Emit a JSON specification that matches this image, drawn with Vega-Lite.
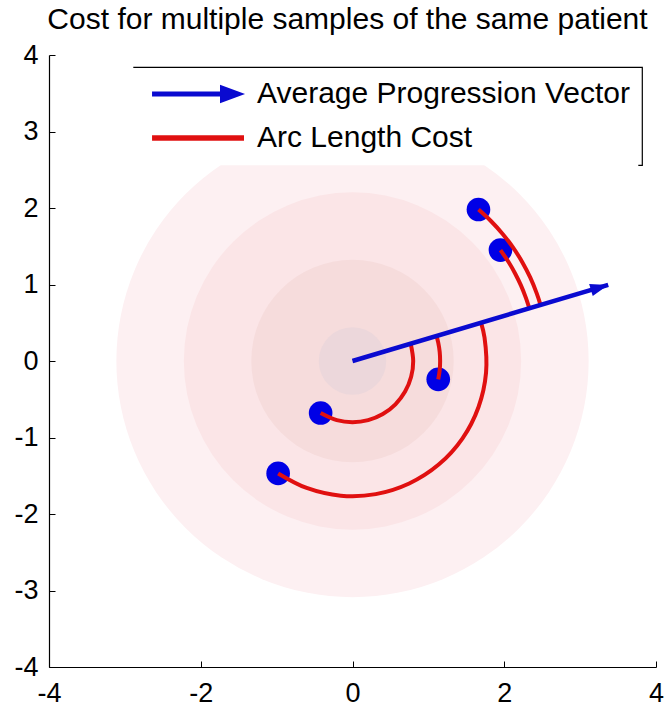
{
  "$schema": "https://vega.github.io/schema/vega-lite/v6.json",
  "width": 607,
  "height": 612,
  "autosize": {"type": "none"},
  "padding": {"left": 49, "top": 55, "right": 10, "bottom": 41},
  "background": "white",
  "config": {
    "view": {"stroke": null},
    "font": "Liberation Sans",
    "axis": {
      "grid": false,
      "title": null,
      "domainColor": "black",
      "domainWidth": 1.2,
      "tickColor": "black",
      "tickSize": -6,
      "labelColor": "black",
      "labelFont": "Liberation Sans",
      "labelFontSize": 27,
      "labelFlush": false,
      "labelOverlap": false,
      "labelExpr": "'' + datum.value"
    }
  },
  "title": {
    "text": "Cost for multiple samples of the same patient",
    "fontSize": 30,
    "fontWeight": "normal",
    "font": "Liberation Sans",
    "color": "black",
    "offset": 6,
    "dx": -5
  },
  "datasets": {
    "rings": [
      {"x": 0, "y": 0, "r": 3.5, "shade": "a"},
      {"x": 0, "y": 0, "r": 2.5, "shade": "b"},
      {"x": 0, "y": 0, "r": 1.5, "shade": "c"},
      {"x": 0, "y": 0, "r": 0.5, "shade": "d"}
    ],
    "samples": [
      {"x": 1.66, "y": 1.98},
      {"x": 1.95, "y": 1.45},
      {"x": 1.13, "y": -0.24},
      {"x": -0.42, "y": -0.68},
      {"x": -0.98, "y": -1.47}
    ],
    "arcs": [
      {"arc": 1, "k": 0, "x": 1.661, "y": 1.979, "series": "Arc Length Cost"},
      {"arc": 1, "k": 1, "x": 1.827, "y": 1.827, "series": "Arc Length Cost"},
      {"arc": 1, "k": 2, "x": 1.979, "y": 1.661, "series": "Arc Length Cost"},
      {"arc": 1, "k": 3, "x": 2.117, "y": 1.482, "series": "Arc Length Cost"},
      {"arc": 1, "k": 4, "x": 2.238, "y": 1.292, "series": "Arc Length Cost"},
      {"arc": 1, "k": 5, "x": 2.342, "y": 1.092, "series": "Arc Length Cost"},
      {"arc": 1, "k": 6, "x": 2.428, "y": 0.884, "series": "Arc Length Cost"},
      {"arc": 1, "k": 7, "x": 2.478, "y": 0.734, "series": "Arc Length Cost"},
      {"arc": 2, "k": 0, "x": 1.95, "y": 1.449, "series": "Arc Length Cost"},
      {"arc": 2, "k": 1, "x": 2.061, "y": 1.288, "series": "Arc Length Cost"},
      {"arc": 2, "k": 2, "x": 2.145, "y": 1.141, "series": "Arc Length Cost"},
      {"arc": 2, "k": 3, "x": 2.22, "y": 0.988, "series": "Arc Length Cost"},
      {"arc": 2, "k": 4, "x": 2.283, "y": 0.831, "series": "Arc Length Cost"},
      {"arc": 2, "k": 5, "x": 2.33, "y": 0.69, "series": "Arc Length Cost"},
      {"arc": 3, "k": 0, "x": 1.13, "y": -0.24, "series": "Arc Length Cost"},
      {"arc": 3, "k": 1, "x": 1.149, "y": -0.121, "series": "Arc Length Cost"},
      {"arc": 3, "k": 2, "x": 1.155, "y": 0.0, "series": "Arc Length Cost"},
      {"arc": 3, "k": 3, "x": 1.149, "y": 0.121, "series": "Arc Length Cost"},
      {"arc": 3, "k": 4, "x": 1.13, "y": 0.24, "series": "Arc Length Cost"},
      {"arc": 3, "k": 5, "x": 1.107, "y": 0.328, "series": "Arc Length Cost"},
      {"arc": 4, "k": 0, "x": -0.42, "y": -0.68, "series": "Arc Length Cost"},
      {"arc": 4, "k": 1, "x": -0.207, "y": -0.773, "series": "Arc Length Cost"},
      {"arc": 4, "k": 2, "x": 0.0, "y": -0.8, "series": "Arc Length Cost"},
      {"arc": 4, "k": 3, "x": 0.207, "y": -0.773, "series": "Arc Length Cost"},
      {"arc": 4, "k": 4, "x": 0.4, "y": -0.693, "series": "Arc Length Cost"},
      {"arc": 4, "k": 5, "x": 0.566, "y": -0.566, "series": "Arc Length Cost"},
      {"arc": 4, "k": 6, "x": 0.693, "y": -0.4, "series": "Arc Length Cost"},
      {"arc": 4, "k": 7, "x": 0.773, "y": -0.207, "series": "Arc Length Cost"},
      {"arc": 4, "k": 8, "x": 0.8, "y": 0.0, "series": "Arc Length Cost"},
      {"arc": 4, "k": 9, "x": 0.767, "y": 0.227, "series": "Arc Length Cost"},
      {"arc": 5, "k": 0, "x": -0.98, "y": -1.47, "series": "Arc Length Cost"},
      {"arc": 5, "k": 1, "x": -0.604, "y": -1.66, "series": "Arc Length Cost"},
      {"arc": 5, "k": 2, "x": -0.154, "y": -1.76, "series": "Arc Length Cost"},
      {"arc": 5, "k": 3, "x": 0.307, "y": -1.74, "series": "Arc Length Cost"},
      {"arc": 5, "k": 4, "x": 0.747, "y": -1.601, "series": "Arc Length Cost"},
      {"arc": 5, "k": 5, "x": 1.136, "y": -1.354, "series": "Arc Length Cost"},
      {"arc": 5, "k": 6, "x": 1.448, "y": -1.014, "series": "Arc Length Cost"},
      {"arc": 5, "k": 7, "x": 1.66, "y": -0.604, "series": "Arc Length Cost"},
      {"arc": 5, "k": 8, "x": 1.76, "y": -0.154, "series": "Arc Length Cost"},
      {"arc": 5, "k": 9, "x": 1.74, "y": 0.307, "series": "Arc Length Cost"},
      {"arc": 5, "k": 10, "x": 1.694, "y": 0.502, "series": "Arc Length Cost"}
    ],
    "vector": [
      {"k": 0, "x": 0, "y": 0, "series": "Average Progression Vector"},
      {"k": 1, "x": 3.37, "y": 0.995, "series": "Average Progression Vector"}
    ]
  },
  "layer": [
    {
      "data": {"name": "rings"},
      "mark": {"type": "point", "shape": "circle", "filled": true, "opacity": 1, "strokeWidth": 0},
      "encoding": {
        "x": {"field": "x", "type": "quantitative", "scale": {"domain": [-4, 4], "nice": false, "zero": false}, "axis": {"values": [-4, -2, 0, 2, 4], "labelPadding": 19}},
        "y": {"field": "y", "type": "quantitative", "scale": {"domain": [-4, 4], "nice": false, "zero": false}, "axis": {"values": [-4, -3, -2, -1, 0, 1, 2, 3, 4], "labelPadding": 17}},
        "size": {"field": "r", "type": "quantitative", "scale": {"type": "pow", "exponent": 2, "domain": [0, 4], "range": [0, 291300]}, "legend": null},
        "fill": {"field": "shade", "type": "nominal", "scale": {"domain": ["a", "b", "c", "d"], "range": ["#fdf0f2", "#fbe5e7", "#f6dcdc", "#ecd7db"]}, "legend": null},
        "order": {"field": "r", "sort": "descending"}
      }
    },
    {
      "data": {"name": "samples"},
      "mark": {"type": "point", "shape": "circle", "filled": true, "opacity": 1, "strokeWidth": 0, "size": 560, "color": "#0000e6"},
      "encoding": {
        "x": {"field": "x", "type": "quantitative"},
        "y": {"field": "y", "type": "quantitative"}
      }
    },
    {
      "data": {"name": "arcs"},
      "mark": {"type": "line", "strokeWidth": 4, "interpolate": "catmull-rom"},
      "encoding": {
        "x": {"field": "x", "type": "quantitative"},
        "y": {"field": "y", "type": "quantitative"},
        "detail": {"field": "arc", "type": "nominal"},
        "order": {"field": "k", "type": "quantitative"},
        "color": {
          "field": "series",
          "type": "nominal",
          "scale": {"domain": ["Average Progression Vector", "Arc Length Cost"], "range": ["#0a0ad0", "#e01010"]},
          "legend": {
            "orient": "none",
            "legendX": 84,
            "legendY": 12,
            "title": null,
            "direction": "vertical",
            "padding": 12,
            "symbolSize": 900,
            "symbolStrokeWidth": 0,
            "labelFontSize": 30,
            "labelFont": "Liberation Sans",
            "labelColor": "black",
            "labelOffset": 82,
            "labelLimit": 800,
            "rowPadding": 14,
            "fillColor": "white",
            "strokeColor": "black",
            "zindex": 3,
            "encode": {
              "legend": {"update": {"strokeDash": {"value": [611, 5000]}, "strokeWidth": {"value": 1.2}}},
              "symbols": {
                "update": {
                  "shape": {"signal": "datum.value === 'Arc Length Cost' ? 'M-0.53,-0.19L5.6,-0.19L5.6,0.19L-0.53,0.19Z' : 'M-0.53,-0.17L4.0,-0.17L4.0,-0.62L5.67,0L4.0,0.62L4.0,0.17L-0.53,0.17Z'"},
                  "fill": {"signal": "datum.value === 'Arc Length Cost' ? '#e01010' : '#0a0ad0'"},
                  "stroke": {"value": "transparent"},
                  "opacity": {"value": 1}
                }
              }
            }
          }
        }
      }
    },
    {
      "data": {"name": "vector"},
      "mark": {"type": "line", "strokeWidth": 4.5},
      "encoding": {
        "x": {"field": "x", "type": "quantitative"},
        "y": {"field": "y", "type": "quantitative"},
        "order": {"field": "k", "type": "quantitative"},
        "color": {"field": "series", "type": "nominal"}
      }
    },
    {
      "data": {"name": "vector"},
      "transform": [{"filter": "datum.k === 1"}],
      "mark": {"type": "point", "shape": "M0,0L-2,-0.7L-2,0.7Z", "filled": true, "opacity": 1, "strokeWidth": 0, "size": 324, "angle": 343.5, "color": "#0a0ad0"},
      "encoding": {
        "x": {"field": "x", "type": "quantitative"},
        "y": {"field": "y", "type": "quantitative"}
      }
    }
  ]
}
